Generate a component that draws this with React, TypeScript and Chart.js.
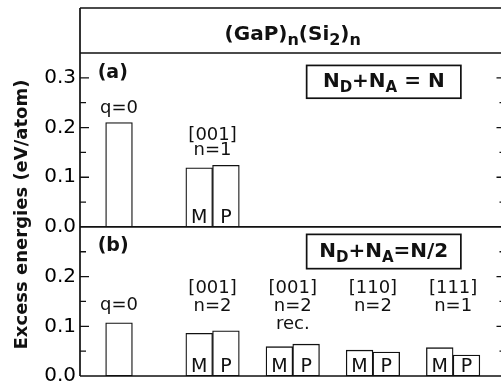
import React, { useEffect, useRef } from 'react';
import { Chart, registerables } from 'chart.js';

Chart.register(...registerables);

// ---------- data ----------
const topSlots = [0, 3, 4];
const topValues = [0.21, 0.119, 0.124];
const topBarTags = ['', 'M', 'P'];

const bottomSlots = [0, 3, 4, 6, 7, 9, 10, 12, 13];
const bottomValues = [0.107, 0.086, 0.091, 0.059, 0.064, 0.052, 0.048, 0.057, 0.042];
const bottomBarTags = ['', 'M', 'P', 'M', 'P', 'M', 'P', 'M', 'P'];

const topTickLabels = [0.0, 0.1, 0.2, 0.3];
const bottomTickLabels = [0.0, 0.1, 0.2];

const topGroupLabels = [
  { x: 0, lines: ['q=0'] },
  { x: 3.5, lines: ['[001]', 'n=1'] },
];
const bottomGroupLabels = [
  { x: 0, lines: ['q=0'] },
  { x: 3.5, lines: ['[001]', 'n=2'] },
  { x: 6.5, lines: ['[001]', 'n=2', 'rec.'] },
  { x: 9.5, lines: ['[110]', 'n=2'] },
  { x: 12.5, lines: ['[111]', 'n=1'] },
];

// annotation layout (value coordinates of first baseline, line gap in px)
const topLabelY = [0.23, 0.175];
const bottomLabelY = [0.132, 0.167, 0.167, 0.167, 0.167];
const topLineGap = 15;
const bottomLineGap = 18;

type Part = { t: string; sub?: boolean };
const titleParts: Part[] = [
  { t: '(GaP)' }, { t: 'n', sub: true }, { t: '(Si' }, { t: '2', sub: true }, { t: ')' }, { t: 'n', sub: true },
];
const boxAParts: Part[] = [
  { t: 'N' }, { t: 'D', sub: true }, { t: '+N' }, { t: 'A', sub: true }, { t: ' = N' },
];
const boxBParts: Part[] = [
  { t: 'N' }, { t: 'D', sub: true }, { t: '+N' }, { t: 'A', sub: true }, { t: '=N/2' },
];
const yTitle = 'Excess energies (eV/atom)';

// ---------- styling ----------
const INK = '#111';
const FAMILY = '"DejaVu Sans", "Liberation Sans", sans-serif';
const TITLE_BAND = 45;

function drawRich(
  ctx: CanvasRenderingContext2D, parts: Part[], cx: number, y: number,
  size: number, subSize: number, drop: number, weight: string,
) {
  const fMain = `${weight} ${size}px ${FAMILY}`;
  const fSub = `${weight} ${subSize}px ${FAMILY}`;
  let total = 0;
  const widths = parts.map((p) => {
    ctx.font = p.sub ? fSub : fMain;
    const w = ctx.measureText(p.t).width;
    total += w;
    return w;
  });
  let xx = cx - total / 2;
  ctx.textAlign = 'left';
  ctx.textBaseline = 'alphabetic';
  parts.forEach((p, i) => {
    ctx.font = p.sub ? fSub : fMain;
    ctx.fillText(p.t, xx, p.sub ? y + drop : y);
    xx += widths[i];
  });
}

const decoPlugin = {
  id: 'deco',
  afterDatasetsDraw(chart: any) {
    const { ctx, chartArea: ca, scales } = chart;
    const xS = scales.x, yA = scales.yA, yB = scales.yB;
    const frameTop = ca.top - TITLE_BAND;
    ctx.save();
    ctx.strokeStyle = INK;
    ctx.fillStyle = INK;
    ctx.lineWidth = 1.7;

    // frame
    ctx.beginPath();
    ctx.moveTo(ca.left, frameTop); ctx.lineTo(ca.right, frameTop);
    ctx.moveTo(ca.left, ca.top); ctx.lineTo(ca.right, ca.top);
    ctx.moveTo(ca.left, yA.bottom); ctx.lineTo(ca.right, yA.bottom);
    ctx.moveTo(ca.left, ca.bottom); ctx.lineTo(ca.right, ca.bottom);
    ctx.moveTo(ca.left, frameTop); ctx.lineTo(ca.left, ca.bottom);
    ctx.moveTo(ca.right, frameTop); ctx.lineTo(ca.right, ca.bottom);
    ctx.stroke();

    // inward ticks
    ctx.lineWidth = 1.3;
    const tickSets: [any, number[]][] = [[yA, topTickLabels], [yB, bottomTickLabels.concat([0.3])]];
    ctx.beginPath();
    tickSets.forEach(([s, majors]) => {
      s.ticks.forEach((t: any) => {
        if (t.value <= s.min + 1e-9 || t.value >= s.max - 1e-9) return;
        const y = s.getPixelForValue(t.value);
        const major = majors.some((m) => Math.abs(m - t.value) < 1e-6);
        const len = major ? 9 : 6;
        ctx.moveTo(ca.left, y); ctx.lineTo(ca.left + len, y);
        ctx.moveTo(ca.right - len, y); ctx.lineTo(ca.right, y);
      });
    });
    ctx.stroke();

    // title
    drawRich(ctx, titleParts, (ca.left + ca.right) / 2, frameTop + 32, 20, 16, 5, 'bold');

    // panel letters
    ctx.font = `bold 19px ${FAMILY}`;
    ctx.textAlign = 'left';
    ctx.textBaseline = 'alphabetic';
    ctx.fillText('(a)', xS.getPixelForValue(-0.8), yA.top + 25);
    ctx.fillText('(b)', xS.getPixelForValue(-0.8), yB.top + 24);

    // condition boxes
    const boxes: [any, Part[], number, number, number, number][] = [
      [yA, boxAParts, 7.02, 12.79, 0.325, 0.259],
      [yB, boxBParts, 7.02, 12.79, 0.285, 0.216],
    ];
    boxes.forEach(([s, parts, x0v, x1v, y0v, y1v]) => {
      const x0 = xS.getPixelForValue(x0v), x1 = xS.getPixelForValue(x1v);
      const y0 = s.getPixelForValue(y0v), y1 = s.getPixelForValue(y1v);
      ctx.lineWidth = 1.7;
      ctx.strokeRect(x0, y0, x1 - x0, y1 - y0);
      drawRich(ctx, parts, (x0 + x1) / 2, (y0 + y1) / 2 + 5, 20, 15, 5, 'bold');
    });

    // group labels
    ctx.font = `18px ${FAMILY}`;
    ctx.textAlign = 'center';
    ctx.textBaseline = 'alphabetic';
    const groups: [any, typeof topGroupLabels, number[], number][] = [
      [yA, topGroupLabels, topLabelY, topLineGap],
      [yB, bottomGroupLabels, bottomLabelY, bottomLineGap],
    ];
    groups.forEach(([s, labels, ys, gap]) => {
      labels.forEach((g, i) => {
        const px = xS.getPixelForValue(g.x);
        const py = s.getPixelForValue(ys[i]);
        g.lines.forEach((ln, j) => ctx.fillText(ln, px, py + j * gap));
      });
    });

    // bar tags
    ctx.font = `19px ${FAMILY}`;
    const tagSets: [number, string[]][] = [[0, topBarTags], [1, bottomBarTags]];
    tagSets.forEach(([di, tags]) => {
      const meta = chart.getDatasetMeta(di);
      meta.data.forEach((bar: any, i: number) => {
        if (!tags[i]) return;
        ctx.fillText(tags[i], bar.x, bar.base - 4);
      });
    });

    // y title
    ctx.save();
    ctx.translate(27, (ca.top + ca.bottom) / 2);
    ctx.rotate(-Math.PI / 2);
    ctx.font = `bold 18px ${FAMILY}`;
    ctx.textAlign = 'center';
    ctx.textBaseline = 'alphabetic';
    ctx.fillText(yTitle, 0, 0);
    ctx.restore();

    ctx.restore();
  },
};

function yAxis(max: number, labelled: number[], weight: number) {
  return {
    type: 'linear' as const,
    position: 'left' as const,
    stack: 'panels',
    stackWeight: weight,
    min: 0,
    max,
    offset: false,
    grid: { display: false, drawTicks: false },
    border: { display: false },
    ticks: {
      stepSize: 0.05,
      autoSkip: false,
      padding: 4,
      color: '#000',
      font: { family: FAMILY, size: 20 },
      callback: (v: number) => (labelled.some((t) => Math.abs(t - v) < 1e-6) ? v.toFixed(1) : ''),
    },
    afterFit: (s: any) => { s.width = 80; },
  };
}

export default function App() {
  const ref = useRef<HTMLCanvasElement | null>(null);
  useEffect(() => {
    if (!ref.current) return;
    const barStyle = {
      backgroundColor: '#fff',
      borderColor: INK,
      borderWidth: 1.3,
      borderSkipped: false as const,
      barPercentage: 1,
      categoryPercentage: 1,
      grouped: false,
    };
    const chart = new Chart(ref.current, {
      type: 'bar',
      data: {
        datasets: [
          { ...barStyle, yAxisID: 'yA', data: topSlots.map((x, i) => ({ x, y: topValues[i] })) },
          { ...barStyle, yAxisID: 'yB', data: bottomSlots.map((x, i) => ({ x, y: bottomValues[i] })) },
        ],
      },
      plugins: [decoPlugin],
      options: {
        animation: false,
        responsive: false,
        devicePixelRatio: 1,
        events: [],
        layout: { padding: { top: 8 + TITLE_BAND, bottom: 5, left: 0, right: 4.5 } },
        plugins: { legend: { display: false }, tooltip: { enabled: false }, title: { display: false } },
        scales: {
          x: {
            type: 'linear',
            min: -1.46,
            max: 14.46,
            offset: false,
            display: false,
            afterBuildTicks: (s: any) => { s.ticks = [{ value: s.min }, { value: s.max }]; },
          },
          yB: yAxis(0.3, bottomTickLabels, 0.3),
          yA: yAxis(0.35, topTickLabels, 0.35),
        } as any,
      },
    });
    return () => chart.destroy();
  }, []);
  return (
    <div style={{ position: 'fixed', left: 0, top: 0, width: 501, height: 392, overflow: 'hidden', background: '#fff' }}>
      <canvas ref={ref} width={510} height={392} style={{ display: 'block' }} />
    </div>
  );
}
